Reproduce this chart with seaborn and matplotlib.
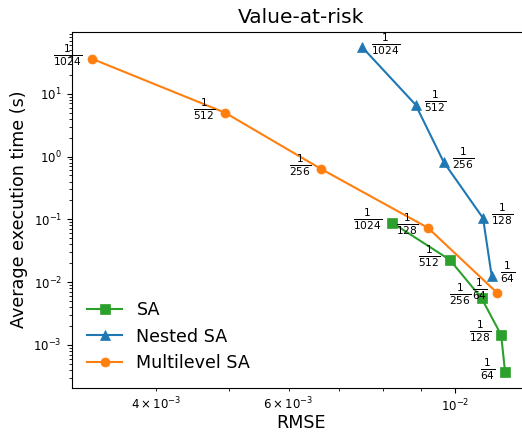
import matplotlib
matplotlib.use("Agg")
import matplotlib.pyplot as plt
import seaborn as sns
import pandas as pd

# Data
step_labels = ["1/1024", "1/512", "1/256", "1/128", "1/64"]

sa_rmse = [8.23e-3, 9.83e-3, 1.083e-2, 1.150e-2, 1.164e-2]
sa_time = [0.0889, 0.0226, 5.55e-3, 1.44e-3, 3.67e-4]

nested_rmse = [7.52e-3, 8.85e-3, 9.645e-3, 1.088e-2, 1.117e-2]
nested_time = [54.7, 6.68, 0.817, 0.1045, 0.0127]

mlsa_rmse = [3.285e-3, 4.94e-3, 6.62e-3, 9.19e-3, 1.136e-2]
mlsa_time = [36.1, 4.98, 0.638, 0.0733, 6.75e-3]

series = [
    ("SA", sa_rmse, sa_time, "tab:green", "s", "left"),
    ("Nested SA", nested_rmse, nested_time, "tab:blue", "^", "right"),
    ("Multilevel SA", mlsa_rmse, mlsa_time, "tab:orange", "o", "left"),
]

fig = plt.figure(figsize=(5.22, 4.32), dpi=100)
ax = fig.add_axes([71.7 / 522, 1 - 388 / 432, (530 - 71.7) / 522, (388 - 31.5) / 432])

for name, xs, ys, color, marker, side in series:
    df = pd.DataFrame({"rmse": xs, "time": ys})
    sns.lineplot(data=df, x="rmse", y="time", ax=ax, sort=False, estimator=None,
                 color=color, marker=marker, markersize=6.5, markeredgecolor=color,
                 markeredgewidth=0.5, linewidth=1.5, label=name)
    for lab, x, y in zip(step_labels, xs, ys):
        num, den = lab.split("/")
        txt = r"$\frac{%s}{%s}$" % (num, den)
        if side == "right":
            ax.annotate(txt, (x, y), xytext=(6, 2.5), textcoords="offset points",
                        ha="left", va="center", fontsize=11)
        else:
            ax.annotate(txt, (x, y), xytext=(-7, 2.5), textcoords="offset points",
                        ha="right", va="center", fontsize=11)

ax.set_xscale("log")
ax.set_yscale("log")
ax.set_xlim(3.088e-3, 10 ** (-2 + (530 - 455.5) / 752))
ax.set_ylim(2.06e-4, 98)
ax.set_title("Value-at-risk", fontsize=14.5)
ax.set_xlabel("RMSE", fontsize=12.6, labelpad=0)
ax.set_ylabel("Average execution time (s)", fontsize=12.6)
ax.tick_params(axis="both", which="both", labelsize=8.5)
ax.legend(loc="lower left", frameon=False, fontsize=12.6)

fig.savefig("out.png", dpi=100)
